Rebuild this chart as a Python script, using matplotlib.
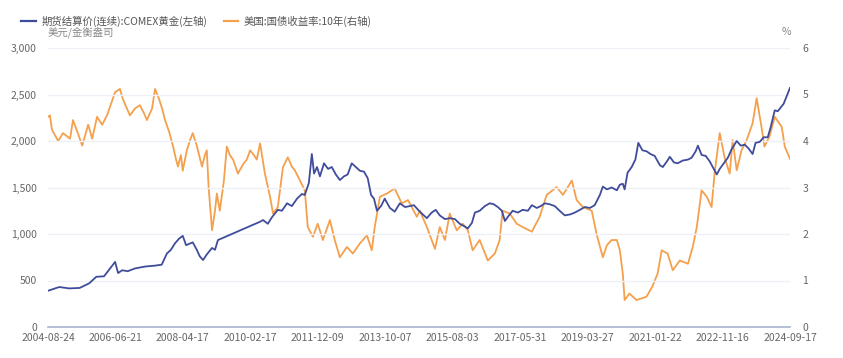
import numpy as np
import pandas as pd
import matplotlib
matplotlib.use("Agg")
import matplotlib.pyplot as plt
import matplotlib.dates as mdates
from matplotlib.ticker import FuncFormatter

plt.rcParams['font.family'] = ['Noto Sans CJK SC', 'DejaVu Sans']

# COMEX gold settlement (USD/oz), time as decimal years
gold_t = [2004.65, 2004.95, 2005.22, 2005.50, 2005.76, 2005.95, 2006.16, 2006.46, 2006.54, 2006.65,
          2006.80, 2007.00, 2007.27, 2007.54, 2007.72, 2007.86, 2007.97, 2008.08, 2008.19, 2008.29,
          2008.38, 2008.56, 2008.67, 2008.75, 2008.84, 2008.94, 2009.08, 2009.16, 2009.24,
          2010.38, 2010.46, 2010.59, 2010.70, 2010.86, 2010.97, 2011.11, 2011.24, 2011.38, 2011.51,
          2011.59, 2011.70, 2011.78, 2011.84, 2011.92, 2012.00, 2012.11, 2012.22, 2012.32, 2012.43,
          2012.54, 2012.65, 2012.75, 2012.86, 2012.97, 2013.08, 2013.19, 2013.29, 2013.38, 2013.46,
          2013.54, 2013.65, 2013.75, 2013.89, 2014.02, 2014.16, 2014.30, 2014.43, 2014.54, 2014.70,
          2014.89, 2015.02, 2015.13, 2015.24, 2015.38, 2015.51, 2015.65, 2015.78, 2015.92, 2016.00,
          2016.11, 2016.19, 2016.32, 2016.46, 2016.59, 2016.70, 2016.81, 2016.92, 2017.00, 2017.11,
          2017.21, 2017.35, 2017.48, 2017.62, 2017.73, 2017.86, 2017.97, 2018.08, 2018.21, 2018.35,
          2018.48, 2018.62, 2018.76, 2018.89, 2019.03, 2019.16, 2019.30, 2019.43, 2019.57, 2019.65,
          2019.76, 2019.89, 2020.03, 2020.11, 2020.19, 2020.24, 2020.32, 2020.43, 2020.53, 2020.61,
          2020.72, 2020.83, 2020.94, 2021.05, 2021.19, 2021.27, 2021.38, 2021.46, 2021.57, 2021.67,
          2021.81, 2021.95, 2022.05, 2022.16, 2022.22, 2022.32, 2022.43, 2022.54, 2022.65, 2022.73,
          2022.81, 2022.92, 2023.03, 2023.13, 2023.27, 2023.38, 2023.49, 2023.59, 2023.70, 2023.78,
          2023.89, 2024.00, 2024.11, 2024.19, 2024.30, 2024.38, 2024.46, 2024.54, 2024.62, 2024.71]
gold_v = [390, 430, 415, 420, 470, 540, 545, 700, 580, 610,
          600, 630, 650, 660, 670, 790, 830, 900, 950, 980,
          880, 910, 830, 760, 720, 780, 850, 830, 935,
          1132, 1150, 1110, 1180, 1260, 1250, 1330, 1300, 1380, 1430,
          1420, 1550, 1860, 1650, 1720, 1620, 1760, 1700, 1720, 1640,
          1580, 1620, 1640, 1760, 1720, 1680, 1670, 1600, 1420, 1380,
          1250, 1300, 1380, 1280, 1240, 1330, 1290, 1300, 1310, 1240,
          1170, 1230, 1260, 1200, 1160, 1170, 1160, 1110, 1080, 1060,
          1120, 1230, 1250, 1300, 1330, 1320, 1290, 1250, 1140, 1200,
          1250, 1230, 1260, 1250, 1310, 1280, 1300, 1330, 1320, 1300,
          1250, 1200, 1210, 1230, 1260, 1290, 1280, 1310, 1420, 1510,
          1480, 1500, 1470, 1530, 1540, 1480, 1660, 1720, 1800, 1980,
          1900, 1890, 1860, 1840, 1740, 1720, 1780, 1830, 1770, 1760,
          1790, 1800, 1820, 1890, 1950, 1850, 1840, 1780, 1700, 1640,
          1700, 1760, 1820, 1910, 2000, 1950, 1960, 1920, 1860, 1980,
          1990, 2040, 2040, 2150, 2330, 2320, 2360, 2400, 2480, 2570]

# US 10Y treasury yield (%)
yld_t = [2004.65, 2004.70, 2004.75, 2004.92, 2005.05, 2005.24, 2005.32, 2005.46, 2005.57, 2005.73,
         2005.84, 2005.97, 2006.11, 2006.24, 2006.35, 2006.46, 2006.59, 2006.67, 2006.78, 2006.86,
         2007.00, 2007.13, 2007.24, 2007.32, 2007.46, 2007.54, 2007.65, 2007.73, 2007.81, 2007.92,
         2008.03, 2008.11, 2008.16, 2008.24, 2008.29, 2008.40, 2008.48, 2008.56, 2008.67, 2008.81,
         2008.89, 2008.94, 2008.99, 2009.08, 2009.16, 2009.21, 2009.29, 2009.40, 2009.48, 2009.56,
         2009.65, 2009.78, 2009.92, 2010.02, 2010.11, 2010.21, 2010.29, 2010.38, 2010.51, 2010.65,
         2010.73, 2010.86, 2011.00, 2011.13, 2011.24, 2011.32, 2011.46, 2011.59, 2011.67, 2011.81,
         2011.94, 2012.08, 2012.27, 2012.40, 2012.54, 2012.73, 2012.89, 2013.08, 2013.27, 2013.40,
         2013.48, 2013.62, 2013.81, 2014.02, 2014.21, 2014.38, 2014.62, 2014.70, 2014.89, 2015.11,
         2015.24, 2015.38, 2015.51, 2015.70, 2015.86, 2016.00, 2016.13, 2016.32, 2016.54, 2016.73,
         2016.86, 2016.94, 2017.13, 2017.32, 2017.48, 2017.73, 2017.94, 2018.13, 2018.40, 2018.57,
         2018.81, 2018.94, 2019.11, 2019.35, 2019.48, 2019.65, 2019.76, 2019.89, 2020.03, 2020.11,
         2020.19, 2020.24, 2020.37, 2020.56, 2020.83, 2020.99, 2021.13, 2021.24, 2021.40, 2021.54,
         2021.73, 2021.95, 2022.08, 2022.19, 2022.32, 2022.46, 2022.59, 2022.67, 2022.81, 2022.94,
         2023.08, 2023.16, 2023.27, 2023.40, 2023.54, 2023.70, 2023.81, 2023.94, 2024.02, 2024.16,
         2024.30, 2024.49, 2024.57, 2024.71]
yld_v = [4.52, 4.55, 4.25, 4.00, 4.17, 4.05, 4.45, 4.15, 3.90, 4.35,
         4.05, 4.52, 4.35, 4.55, 4.80, 5.05, 5.12, 4.90, 4.70, 4.55,
         4.70, 4.77, 4.60, 4.45, 4.70, 5.12, 4.90, 4.70, 4.45, 4.20,
         3.88, 3.60, 3.45, 3.70, 3.36, 3.80, 4.00, 4.17, 3.90, 3.45,
         3.70, 3.80, 3.00, 2.08, 2.50, 2.87, 2.50, 3.14, 3.88, 3.70,
         3.60, 3.30, 3.50, 3.60, 3.80, 3.70, 3.60, 3.95, 3.30, 2.80,
         2.44, 2.58, 3.44, 3.65, 3.45, 3.37, 3.15, 2.94, 2.15, 1.94,
         2.22, 1.87, 2.30, 1.87, 1.50, 1.72, 1.58, 1.80, 1.97, 1.65,
         2.15, 2.80, 2.87, 2.98, 2.66, 2.73, 2.37, 2.50, 2.15, 1.68,
         2.15, 1.87, 2.44, 2.08, 2.22, 2.08, 1.65, 1.87, 1.43, 1.58,
         1.87, 2.50, 2.44, 2.22, 2.15, 2.05, 2.37, 2.84, 3.01, 2.84,
         3.15, 2.73, 2.58, 2.50, 2.00, 1.50, 1.76, 1.87, 1.87, 1.65,
         1.15, 0.58, 0.72, 0.58, 0.65, 0.87, 1.15, 1.65, 1.58, 1.22,
         1.43, 1.36, 1.72, 2.15, 2.94, 2.80, 2.58, 3.30, 4.17, 3.65,
         3.30, 4.02, 3.37, 3.80, 4.02, 4.38, 4.92, 4.30, 3.88, 4.10,
         4.52, 4.30, 3.88, 3.62]

tick_dates = ['2004-08-24', '2006-06-21', '2008-04-17', '2010-02-17', '2011-12-09', '2013-10-07',
              '2015-08-03', '2017-05-31', '2019-03-27', '2021-01-22', '2022-11-16', '2024-09-17']

gold_name = '期货结算价(连续):COMEX黄金(左轴)'
yld_name = '美国:国债收益率:10年(右轴)'


def to_dates(ts):
    out = []
    for t in ts:
        y = int(t)
        start = pd.Timestamp(year=y, month=1, day=1)
        out.append(start + pd.Timedelta(days=(t - y) * 365.25))
    return out


BLUE = '#3f4c9b'
ORANGE = '#f4a04c'
TXT = '#666666'
GRID = '#eef0f6'

fig = plt.figure(figsize=(8.43, 3.58), dpi=100)
ax = fig.add_axes([48 / 843, 1 - 327 / 358, 742 / 843, 279 / 358])
ax2 = ax.twinx()

ax.plot(to_dates(gold_t), gold_v, color=BLUE, lw=1.3, zorder=3)
ax2.plot(to_dates(yld_t), yld_v, color=ORANGE, lw=1.3, zorder=2)
ax.set_zorder(ax2.get_zorder() + 1)
ax.patch.set_visible(False)

ticks = pd.to_datetime(tick_dates)
ax.set_xlim(ticks[0], ticks[-1])
ax.set_xticks(ticks)
ax.set_xticklabels(tick_dates)
ax.set_ylim(0, 3000)
ax.set_yticks(np.arange(0, 3001, 500))
ax.yaxis.set_major_formatter(FuncFormatter(lambda v, p: f'{int(v):,}'))
ax2.set_ylim(0, 6)
ax2.set_yticks(range(0, 7))

for a in (ax, ax2):
    for s in a.spines.values():
        s.set_visible(False)
    a.tick_params(length=0, labelsize=7.5, labelcolor=TXT)
ax.tick_params(axis='y', pad=8)
ax2.tick_params(axis='y', pad=9)
ax.tick_params(axis='x', pad=4)
ax.spines['bottom'].set_visible(True)
ax.spines['bottom'].set_color('#a9b3cd')
ax.spines['bottom'].set_linewidth(1.2)
ax.grid(axis='y', color=GRID, lw=1)
ax.set_axisbelow(True)

fig.text(48 / 843, 1 - 32 / 358, '美元/金衡盎司', fontsize=7.5, color='#888888', va='center', ha='left')
fig.text(786 / 843, 1 - 32 / 358, '%', fontsize=7.5, color='#888888', va='center', ha='center')

h1, = ax.plot([], [], color=BLUE, lw=1.6)
h2, = ax.plot([], [], color=ORANGE, lw=1.6)
fig.legend([h1, h2], [gold_name, yld_name], loc='upper left', bbox_to_anchor=(12 / 843, 1 - 6 / 358),
           ncol=2, frameon=False, fontsize=7.5, handlelength=1.4, handletextpad=0.5,
           columnspacing=1.6, labelcolor='#555555')

fig.savefig('out.png', dpi=100)
